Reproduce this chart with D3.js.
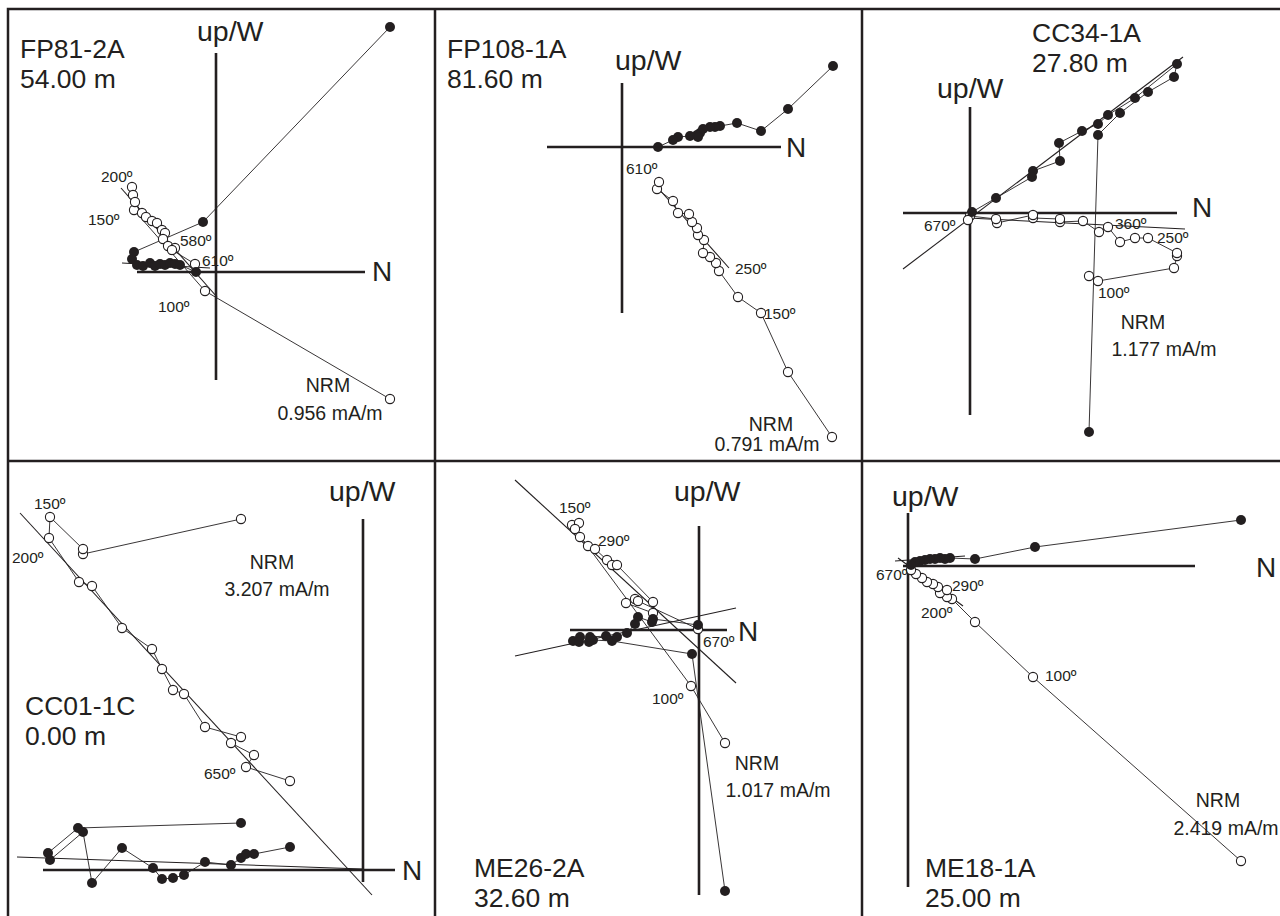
<!DOCTYPE html>
<html>
<head>
<meta charset="utf-8">
<script src="https://cdn.jsdelivr.net/npm/d3@7"></script>
<style>
  body { margin: 0; background: #fff; }
  text { font-family: "Liberation Sans", Arial, sans-serif; fill: #231f20; }
</style>
</head>
<body>
<svg id="chart" width="1280" height="916"></svg>
<script>
// values are [N, up/W] components (arbitrary units, origin = axis cross)

// FP81-2A
var fp81Horiz = [[17.4,24.5],[-1.3,5.0],[-8.2,2.0],[-8.4,1.3],[-7.9,0.7],[-7.3,0.6],[-6.6,0.9],[-6.1,0.6],[-5.6,0.8],[-5.1,0.7],[-4.6,0.9],[-4.1,0.8],[-3.6,0.7],[-2.0,0.0]];
var fp81Vert  = [[17.4,-12.7],[-1.1,-1.9],[-8.2,6.2],[-8.4,8.5],[-8.3,7.7],[-8.1,7.0],[-7.4,5.9],[-7.0,5.5],[-6.4,5.1],[-5.9,4.9],[-5.4,4.2],[-5.1,3.9],[-5.3,3.3],[-4.8,2.6],[-4.1,2.4],[-4.4,2.2],[-2.1,0.8]];
var fp81FitH  = [[-9.4,0.9],[-0.6,0.4]];
var fp81FitV  = [[-9.5,8.4],[0.1,-2.5]];

// FP108-1A
var fp108Horiz = [[21.1,8.1],[16.6,3.8],[13.9,1.6],[11.5,2.4],[9.8,2.1],[9.3,2.0],[8.8,2.0],[8.1,1.8],[7.8,1.4],[7.5,1.2],[7.6,1.0],[6.8,1.1],[5.6,1.0],[5.1,0.7],[3.6,0.0]];
var fp108Vert  = [[21.0,-29.0],[16.6,-22.5],[13.9,-16.6],[11.6,-15.0],[9.7,-12.4],[9.4,-11.6],[8.8,-11.0],[8.1,-10.6],[8.2,-9.3],[7.6,-8.8],[7.5,-8.1],[7.0,-7.5],[6.7,-6.7],[5.6,-6.6],[5.1,-5.4],[3.5,-4.2],[3.7,-3.5]];
var fp108FitV  = [[3.6,-4.1],[10.7,-12.1]];

// CC34-1A
var cc34Horiz = [[11.9,-21.9],[12.8,7.8],[15.0,10.0],[17.8,12.1],[20.4,13.6],[20.7,14.9],[16.5,11.5],[13.8,9.8],[12.8,8.9],[11.2,8.2],[8.9,7.0],[9.0,5.2],[6.3,4.2],[6.2,3.6],[2.6,1.5],[0.2,0.1]];
var cc34Vert  = [[11.9,-6.3],[12.8,-6.8],[20.4,-5.5],[20.7,-4.3],[20.7,-4.0],[17.8,-2.5],[16.5,-2.5],[15.0,-2.9],[13.8,-1.4],[12.9,-1.9],[11.3,-0.8],[9.0,-0.9],[9.0,-0.6],[6.3,-0.5],[6.3,-0.2],[2.7,-1.0],[2.6,-0.6],[0.0,-0.3],[-0.2,-0.7]];
var cc34FitH  = [[-6.7,-5.6],[21.3,15.6]];
var cc34FitV  = [[-0.2,-0.5],[21.5,-1.6]];

// CC01-1C
var cc01Horiz = [[-12.2,4.7],[-28.5,4.2],[-31.5,1.7],[-31.3,1.0],[-28.0,3.8],[-27.1,-1.3],[-24.1,2.2],[-21.0,0.2],[-20.1,-0.9],[-19.0,-0.8],[-17.9,-0.5],[-15.8,0.8],[-13.2,0.5],[-12.2,1.2],[-11.7,1.6],[-10.9,1.6],[-7.3,2.3]];
var cc01Vert  = [[-12.2,35.1],[-28.0,31.6],[-28.0,32.1],[-31.3,35.3],[-31.4,33.2],[-28.4,28.8],[-27.1,28.4],[-24.1,24.2],[-21.1,22.1],[-20.1,20.1],[-19.0,18.0],[-17.9,17.6],[-15.8,14.3],[-12.2,13.3],[-13.2,12.7],[-10.9,11.5],[-11.7,10.3],[-7.3,8.9]];
var cc01FitH  = [[-34.6,1.3],[0.0,0.1]];
var cc01FitV  = [[-34.3,35.7],[0.9,-2.5]];

// ME26-2A
var me26Horiz = [[2.6,-26.1],[-0.7,-2.4],[-8.7,-1.1],[-10.6,-1.0],[-11.9,-0.7],[-12.6,-1.1],[-12.0,-1.2],[-11.0,-1.2],[-10.9,-0.7],[-9.3,-0.6],[-8.2,-0.7],[-7.2,-0.3],[-6.4,0.6],[-6.1,1.3],[-4.7,0.8],[-4.6,1.1],[-0.1,0.5]];
var me26Vert  = [[2.6,-11.3],[-0.8,-5.6],[-12.7,10.5],[-12.0,10.7],[-12.4,10.1],[-11.9,9.3],[-11.1,8.4],[-10.4,8.1],[-9.2,7.0],[-8.7,6.5],[-8.2,6.5],[-4.6,2.8],[-4.6,1.7],[-7.3,2.7],[-6.4,3.1],[-6.1,2.9],[-0.1,0.1]];
var me26FitH  = [[-18.4,-2.6],[3.7,2.2]];
var me26FitV  = [[-18.4,15.0],[3.7,-5.3]];

// ME18-1A
var me18Horiz = [[33.3,4.6],[12.7,1.9],[6.7,0.7],[4.2,0.8],[3.7,0.7],[3.2,0.8],[2.7,0.7],[2.2,0.7],[1.7,0.6],[1.2,0.5],[0.7,0.4],[0.3,0.1]];
var me18Vert  = [[33.3,-29.5],[12.5,-11.1],[6.7,-5.6],[4.4,-3.3],[3.9,-3.1],[3.2,-2.7],[3.9,-2.4],[3.0,-2.1],[2.5,-1.8],[1.9,-1.6],[1.4,-1.2],[0.8,-0.8],[0.3,-0.4]];
var me18FitH  = [[-1.3,0.5],[5.7,1.0]];
var me18FitV  = [[-1.0,0.8],[5.5,-4.0]];

var ink = "#231f20";

var panels = [
  { origin:[216,272], nExt:[-7.9,14.9], uExt:[21.9,-10.8],
    horiz:fp81Horiz, vert:fp81Vert, fits:[fp81FitH, fp81FitV],
    title:["FP81-2A","54.00 m"], titleAt:[20,58], upAt:[197,41], nAt:[372,281],
    temps:[["200º",101,182],["150º",88,225],["580º",180,246],["610º",202,266],["100º",158,312]],
    nrm:["0.956 mA/m",328,392,330,420] },
  { origin:[622,147], nExt:[-7.5,15.9], uExt:[6.4,-16.6],
    horiz:fp108Horiz, vert:fp108Vert, fits:[fp108FitV],
    title:["FP108-1A","81.60 m"], titleAt:[447,58], upAt:[615,70], nAt:[786,157],
    temps:[["610º",626,174],["250º",735,274],["150º",764,319]],
    nrm:["0.791 mA/m",771,431,767,451] },
  { origin:[970,213], nExt:[-6.7,20.7], uExt:[10.6,-20.2],
    horiz:cc34Horiz, vert:cc34Vert, fits:[cc34FitH, cc34FitV],
    title:["CC34-1A","27.80 m"], titleAt:[1032,42], upAt:[937,98], nAt:[1192,217],
    temps:[["670º",924,231],["360º",1115,229],["250º",1157,243],["100º",1098,298]],
    nrm:["1.177 mA/m",1143,329,1164,356] },
  { origin:[363,870], nExt:[-32.0,3.2], uExt:[35.1,-1.2],
    horiz:cc01Horiz, vert:cc01Vert, fits:[cc01FitH, cc01FitV],
    title:["CC01-1C","0.00 m"], titleAt:[25,715], upAt:[329,501], nAt:[402,880],
    temps:[["150º",34,509],["200º",12,563],["650º",204,779]],
    nrm:["3.207 mA/m",272,569,277,596] },
  { origin:[699,630], nExt:[-12.9,2.8], uExt:[10.4,-26.5],
    horiz:me26Horiz, vert:me26Vert, fits:[me26FitH, me26FitV],
    title:["ME26-2A","32.60 m"], titleAt:[474,877], upAt:[674,501], nAt:[738,641],
    temps:[["150º",559,513],["290º",598,546],["670º",703,647],["100º",652,704]],
    nrm:["1.017 mA/m",757,770,778,797] },
  { origin:[908,566], nExt:[-0.5,28.7], uExt:[5.3,-32.1],
    horiz:me18Horiz, vert:me18Vert, fits:[me18FitH, me18FitV],
    title:["ME18-1A","25.00 m"], titleAt:[925,877], upAt:[892,506], nAt:[1256,577],
    temps:[["670º",876,580],["290º",952,591],["200º",921,618],["100º",1045,681]],
    nrm:["2.419 mA/m",1218,807,1226,835] }
];

var svg = d3.select("#chart");

// frame and dividers
var frame = svg.append("g").attr("stroke", ink).attr("stroke-width", 2.5).attr("fill", "none");
frame.append("rect").attr("x", 8).attr("y", 9).attr("width", 1280).attr("height", 920);
frame.append("line").attr("x1", 8).attr("x2", 1280).attr("y1", 461).attr("y2", 461);
frame.append("line").attr("x1", 435).attr("x2", 435).attr("y1", 9).attr("y2", 916);
frame.append("line").attr("x1", 862).attr("x2", 862).attr("y1", 9).attr("y2", 916);

panels.forEach(function(p){
    var k = 10;
    var x = d3.scaleLinear().domain([0,1]).range([p.origin[0], p.origin[0] + k]);
    var y = d3.scaleLinear().domain([0,1]).range([p.origin[1], p.origin[1] - k]);
    var line = d3.line().x(function(d){ return x(d[0]); }).y(function(d){ return y(d[1]); });

    var g = svg.append("g");

    // axes
    g.append("line")
        .attr("x1", x(p.nExt[0])).attr("x2", x(p.nExt[1]))
        .attr("y1", y(0)).attr("y2", y(0))
        .attr("stroke", ink).attr("stroke-width", 2.6);
    g.append("line")
        .attr("x1", x(0)).attr("x2", x(0))
        .attr("y1", y(p.uExt[0])).attr("y2", y(p.uExt[1]))
        .attr("stroke", ink).attr("stroke-width", 2.6);

    // fitted lines
    p.fits.forEach(function(f){
        g.append("path").attr("d", line(f))
            .attr("fill", "none").attr("stroke", ink).attr("stroke-width", 1.1);
    });

    // demag paths
    [p.horiz, p.vert].forEach(function(s){
        g.append("path").attr("d", line(s))
            .attr("fill", "none").attr("stroke", ink).attr("stroke-width", 0.9);
    });

    g.selectAll(".open").data(p.vert).enter()
        .append("circle")
        .attr("cx", function(d){ return x(d[0]); })
        .attr("cy", function(d){ return y(d[1]); })
        .attr("r", 4.6)
        .attr("fill", "#fff").attr("stroke", ink).attr("stroke-width", 1.1);

    g.selectAll(".filled").data(p.horiz).enter()
        .append("circle")
        .attr("cx", function(d){ return x(d[0]); })
        .attr("cy", function(d){ return y(d[1]); })
        .attr("r", 5)
        .attr("fill", ink);

    // texts
    g.append("text").attr("x", p.titleAt[0]).attr("y", p.titleAt[1])
        .attr("font-size", 26.5).text(p.title[0]);
    g.append("text").attr("x", p.titleAt[0]).attr("y", p.titleAt[1] + 30)
        .attr("font-size", 26.5).text(p.title[1]);
    g.append("text").attr("x", p.upAt[0]).attr("y", p.upAt[1])
        .attr("font-size", 28.5).text("up/W");
    g.append("text").attr("x", p.nAt[0]).attr("y", p.nAt[1])
        .attr("font-size", 28).text("N");

    p.temps.forEach(function(t){
        g.append("text").attr("x", t[1]).attr("y", t[2])
            .attr("font-size", 15.5).text(t[0]);
    });

    g.append("text").attr("x", p.nrm[1]).attr("y", p.nrm[2])
        .attr("text-anchor", "middle").attr("font-size", 19.5).text("NRM");
    g.append("text").attr("x", p.nrm[3]).attr("y", p.nrm[4])
        .attr("text-anchor", "middle").attr("font-size", 19.5).text(p.nrm[0]);
});
</script>
</body>
</html>
